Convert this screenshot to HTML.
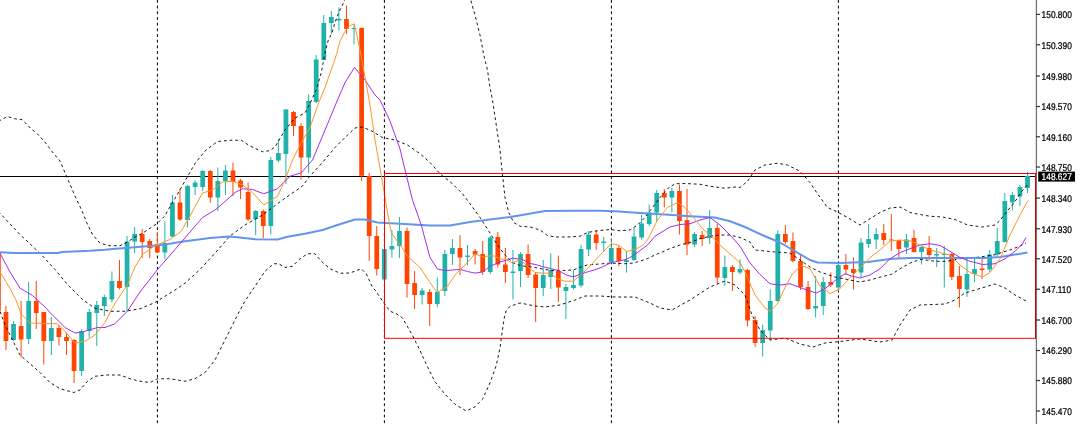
<!DOCTYPE html>
<html><head><meta charset="utf-8"><title>Chart</title><style>html,body{margin:0;padding:0;background:#fff}svg{display:block}</style></head><body>
<svg width="1080" height="424" viewBox="0 0 1080 424">
<rect width="1080" height="424" fill="#fff"/>
<g stroke="#000" stroke-width="1" stroke-dasharray="2.84 2.84" fill="none">
<line x1="157.4" y1="0" x2="157.4" y2="424"/>
<line x1="384.4" y1="0" x2="384.4" y2="424"/>
<line x1="611.4" y1="0" x2="611.4" y2="424"/>
<line x1="838.4" y1="0" x2="838.4" y2="424"/>
</g>
<line x1="0" y1="176.5" x2="1036" y2="176.5" stroke="#000" stroke-width="1"/>
<path d="M-1.60 253.0V311.0" stroke="#ff4500" stroke-width="1"/><rect x="-3.98" y="253.0" width="4.75" height="58.00" fill="#ff4500"/>
<path d="M5.97 306.0V350.0" stroke="#ff4500" stroke-width="1"/><rect x="3.59" y="312.0" width="4.75" height="29.00" fill="#ff4500"/>
<path d="M13.53 321.0V341.0" stroke="#20b2aa" stroke-width="1"/><rect x="11.16" y="324.0" width="4.75" height="16.00" fill="#20b2aa"/>
<path d="M21.10 301.0V357.5" stroke="#ff4500" stroke-width="1"/><rect x="18.73" y="326.0" width="4.75" height="13.50" fill="#ff4500"/>
<path d="M28.67 282.0V344.0" stroke="#20b2aa" stroke-width="1"/><rect x="26.29" y="301.0" width="4.75" height="38.00" fill="#20b2aa"/>
<path d="M36.23 281.0V329.0" stroke="#ff4500" stroke-width="1"/><rect x="33.86" y="301.0" width="4.75" height="12.00" fill="#ff4500"/>
<path d="M43.80 312.0V364.5" stroke="#ff4500" stroke-width="1"/><rect x="41.43" y="312.0" width="4.75" height="29.00" fill="#ff4500"/>
<path d="M51.37 317.0V355.0" stroke="#20b2aa" stroke-width="1"/><rect x="48.99" y="328.0" width="4.75" height="13.00" fill="#20b2aa"/>
<path d="M58.94 325.0V345.5" stroke="#ff4500" stroke-width="1"/><rect x="56.56" y="328.0" width="4.75" height="9.00" fill="#ff4500"/>
<path d="M66.50 332.5V355.0" stroke="#ff4500" stroke-width="1"/><rect x="64.13" y="337.0" width="4.75" height="4.00" fill="#ff4500"/>
<path d="M74.07 339.0V383.0" stroke="#ff4500" stroke-width="1"/><rect x="71.70" y="340.0" width="4.75" height="31.00" fill="#ff4500"/>
<path d="M81.64 329.0V376.0" stroke="#20b2aa" stroke-width="1"/><rect x="79.26" y="331.0" width="4.75" height="40.00" fill="#20b2aa"/>
<path d="M89.20 309.0V337.5" stroke="#20b2aa" stroke-width="1"/><rect x="86.83" y="312.0" width="4.75" height="19.00" fill="#20b2aa"/>
<path d="M96.77 301.0V346.0" stroke="#20b2aa" stroke-width="1"/><rect x="94.40" y="305.0" width="4.75" height="8.00" fill="#20b2aa"/>
<path d="M104.34 294.5V316.0" stroke="#20b2aa" stroke-width="1"/><rect x="101.96" y="297.0" width="4.75" height="9.00" fill="#20b2aa"/>
<path d="M111.91 271.5V302.5" stroke="#20b2aa" stroke-width="1"/><rect x="109.53" y="281.0" width="4.75" height="18.50" fill="#20b2aa"/>
<path d="M119.47 260.0V289.5" stroke="#ff4500" stroke-width="1"/><rect x="117.10" y="281.0" width="4.75" height="7.00" fill="#ff4500"/>
<path d="M127.04 236.0V311.0" stroke="#20b2aa" stroke-width="1"/><rect x="124.66" y="241.5" width="4.75" height="45.50" fill="#20b2aa"/>
<path d="M134.61 227.0V253.0" stroke="#20b2aa" stroke-width="1"/><rect x="132.23" y="234.0" width="4.75" height="7.50" fill="#20b2aa"/>
<path d="M142.17 229.0V258.0" stroke="#ff4500" stroke-width="1"/><rect x="139.80" y="234.0" width="4.75" height="8.00" fill="#ff4500"/>
<path d="M149.74 239.0V258.0" stroke="#ff4500" stroke-width="1"/><rect x="147.37" y="241.0" width="4.75" height="7.00" fill="#ff4500"/>
<path d="M157.31 232.0V253.0" stroke="#ff4500" stroke-width="1"/><rect x="154.93" y="244.0" width="4.75" height="8.50" fill="#ff4500"/>
<path d="M164.87 221.5V259.5" stroke="#20b2aa" stroke-width="1"/><rect x="162.50" y="243.0" width="4.75" height="9.50" fill="#20b2aa"/>
<path d="M172.44 195.0V237.0" stroke="#20b2aa" stroke-width="1"/><rect x="170.07" y="202.5" width="4.75" height="34.00" fill="#20b2aa"/>
<path d="M180.01 189.0V221.0" stroke="#ff4500" stroke-width="1"/><rect x="177.63" y="202.5" width="4.75" height="17.00" fill="#ff4500"/>
<path d="M187.58 185.0V227.5" stroke="#20b2aa" stroke-width="1"/><rect x="185.20" y="186.0" width="4.75" height="34.00" fill="#20b2aa"/>
<path d="M195.14 180.0V195.0" stroke="#20b2aa" stroke-width="1"/><rect x="192.77" y="182.5" width="4.75" height="4.50" fill="#20b2aa"/>
<path d="M202.71 170.0V191.0" stroke="#20b2aa" stroke-width="1"/><rect x="200.33" y="171.0" width="4.75" height="16.00" fill="#20b2aa"/>
<path d="M210.28 170.0V202.5" stroke="#ff4500" stroke-width="1"/><rect x="207.90" y="171.0" width="4.75" height="26.50" fill="#ff4500"/>
<path d="M217.84 167.5V211.0" stroke="#20b2aa" stroke-width="1"/><rect x="215.47" y="181.0" width="4.75" height="16.50" fill="#20b2aa"/>
<path d="M225.41 165.0V195.0" stroke="#20b2aa" stroke-width="1"/><rect x="223.03" y="170.5" width="4.75" height="10.50" fill="#20b2aa"/>
<path d="M232.98 162.5V196.0" stroke="#ff4500" stroke-width="1"/><rect x="230.60" y="170.5" width="4.75" height="11.50" fill="#ff4500"/>
<path d="M240.54 179.0V199.0" stroke="#ff4500" stroke-width="1"/><rect x="238.17" y="180.5" width="4.75" height="7.00" fill="#ff4500"/>
<path d="M248.11 182.5V221.0" stroke="#ff4500" stroke-width="1"/><rect x="245.74" y="192.0" width="4.75" height="27.50" fill="#ff4500"/>
<path d="M255.68 210.0V235.0" stroke="#20b2aa" stroke-width="1"/><rect x="253.30" y="211.0" width="4.75" height="8.00" fill="#20b2aa"/>
<path d="M263.25 209.5V238.0" stroke="#ff4500" stroke-width="1"/><rect x="260.87" y="211.0" width="4.75" height="15.00" fill="#ff4500"/>
<path d="M270.81 157.0V234.5" stroke="#20b2aa" stroke-width="1"/><rect x="268.44" y="160.0" width="4.75" height="66.00" fill="#20b2aa"/>
<path d="M278.38 139.0V162.0" stroke="#20b2aa" stroke-width="1"/><rect x="276.00" y="153.0" width="4.75" height="7.50" fill="#20b2aa"/>
<path d="M285.95 109.0V184.0" stroke="#20b2aa" stroke-width="1"/><rect x="283.57" y="109.5" width="4.75" height="44.50" fill="#20b2aa"/>
<path d="M293.51 111.0V136.0" stroke="#ff4500" stroke-width="1"/><rect x="291.14" y="112.0" width="4.75" height="14.00" fill="#ff4500"/>
<path d="M301.08 123.0V179.5" stroke="#ff4500" stroke-width="1"/><rect x="298.70" y="126.0" width="4.75" height="31.50" fill="#ff4500"/>
<path d="M308.65 94.5V173.0" stroke="#20b2aa" stroke-width="1"/><rect x="306.27" y="101.0" width="4.75" height="56.50" fill="#20b2aa"/>
<path d="M316.21 55.0V103.0" stroke="#20b2aa" stroke-width="1"/><rect x="313.84" y="59.5" width="4.75" height="42.50" fill="#20b2aa"/>
<path d="M323.78 15.0V60.0" stroke="#20b2aa" stroke-width="1"/><rect x="321.41" y="23.0" width="4.75" height="37.00" fill="#20b2aa"/>
<path d="M331.35 11.0V34.0" stroke="#20b2aa" stroke-width="1"/><rect x="328.97" y="17.0" width="4.75" height="6.00" fill="#20b2aa"/>
<path d="M338.91 7.5V30.6" stroke="#20b2aa" stroke-width="1"/><rect x="336.54" y="18.75" width="4.75" height="1.75" fill="#20b2aa"/>
<path d="M346.48 5.5V34.0" stroke="#ff4500" stroke-width="1"/><rect x="344.11" y="19.0" width="4.75" height="10.00" fill="#ff4500"/>
<path d="M354.05 25.0V44.5" stroke="#20b2aa" stroke-width="1"/><rect x="351.67" y="28.0" width="4.75" height="1.00" fill="#20b2aa"/>
<path d="M361.62 27.5V181.0" stroke="#ff4500" stroke-width="1"/><rect x="359.24" y="28.0" width="4.75" height="147.75" fill="#ff4500"/>
<path d="M369.18 173.0V261.0" stroke="#ff4500" stroke-width="1"/><rect x="366.81" y="176.0" width="4.75" height="60.00" fill="#ff4500"/>
<path d="M376.75 226.0V275.5" stroke="#ff4500" stroke-width="1"/><rect x="374.38" y="236.0" width="4.75" height="33.00" fill="#ff4500"/>
<path d="M384.32 249.0V280.0" stroke="#20b2aa" stroke-width="1"/><rect x="381.94" y="249.0" width="4.75" height="30.50" fill="#20b2aa"/>
<path d="M391.88 230.0V257.5" stroke="#20b2aa" stroke-width="1"/><rect x="389.51" y="246.0" width="4.75" height="3.50" fill="#20b2aa"/>
<path d="M399.45 217.0V258.0" stroke="#20b2aa" stroke-width="1"/><rect x="397.08" y="231.0" width="4.75" height="15.00" fill="#20b2aa"/>
<path d="M407.02 227.5V297.5" stroke="#ff4500" stroke-width="1"/><rect x="404.64" y="231.0" width="4.75" height="53.00" fill="#ff4500"/>
<path d="M414.58 271.0V309.0" stroke="#ff4500" stroke-width="1"/><rect x="412.21" y="283.0" width="4.75" height="12.00" fill="#ff4500"/>
<path d="M422.15 288.0V304.5" stroke="#20b2aa" stroke-width="1"/><rect x="419.78" y="290.5" width="4.75" height="4.50" fill="#20b2aa"/>
<path d="M429.72 289.0V326.0" stroke="#ff4500" stroke-width="1"/><rect x="427.34" y="292.0" width="4.75" height="12.00" fill="#ff4500"/>
<path d="M437.29 277.5V307.0" stroke="#20b2aa" stroke-width="1"/><rect x="434.91" y="292.0" width="4.75" height="12.00" fill="#20b2aa"/>
<path d="M444.85 250.0V296.0" stroke="#20b2aa" stroke-width="1"/><rect x="442.48" y="254.0" width="4.75" height="37.00" fill="#20b2aa"/>
<path d="M452.42 239.0V265.0" stroke="#20b2aa" stroke-width="1"/><rect x="450.04" y="248.0" width="4.75" height="6.00" fill="#20b2aa"/>
<path d="M459.99 235.0V275.0" stroke="#ff4500" stroke-width="1"/><rect x="457.61" y="248.0" width="4.75" height="9.50" fill="#ff4500"/>
<path d="M467.55 245.0V265.5" stroke="#20b2aa" stroke-width="1"/><rect x="465.18" y="255.5" width="4.75" height="1.50" fill="#20b2aa"/>
<path d="M475.12 249.0V264.5" stroke="#ff4500" stroke-width="1"/><rect x="472.75" y="251.0" width="4.75" height="3.50" fill="#ff4500"/>
<path d="M482.69 241.0V275.0" stroke="#ff4500" stroke-width="1"/><rect x="480.31" y="254.0" width="4.75" height="18.00" fill="#ff4500"/>
<path d="M490.25 236.0V274.0" stroke="#20b2aa" stroke-width="1"/><rect x="487.88" y="237.5" width="4.75" height="34.50" fill="#20b2aa"/>
<path d="M497.82 232.0V267.5" stroke="#ff4500" stroke-width="1"/><rect x="495.45" y="237.0" width="4.75" height="27.50" fill="#ff4500"/>
<path d="M505.39 248.0V283.0" stroke="#ff4500" stroke-width="1"/><rect x="503.01" y="264.5" width="4.75" height="7.50" fill="#ff4500"/>
<path d="M512.96 250.0V299.5" stroke="#20b2aa" stroke-width="1"/><rect x="510.58" y="271.5" width="4.75" height="1.50" fill="#20b2aa"/>
<path d="M520.52 252.0V287.0" stroke="#20b2aa" stroke-width="1"/><rect x="518.15" y="254.0" width="4.75" height="17.00" fill="#20b2aa"/>
<path d="M528.09 244.5V278.0" stroke="#ff4500" stroke-width="1"/><rect x="525.72" y="254.0" width="4.75" height="21.00" fill="#ff4500"/>
<path d="M535.66 272.0V322.0" stroke="#ff4500" stroke-width="1"/><rect x="533.28" y="274.5" width="4.75" height="13.50" fill="#ff4500"/>
<path d="M543.22 260.0V296.0" stroke="#20b2aa" stroke-width="1"/><rect x="540.85" y="275.0" width="4.75" height="13.00" fill="#20b2aa"/>
<path d="M550.79 253.5V289.0" stroke="#20b2aa" stroke-width="1"/><rect x="548.42" y="270.0" width="4.75" height="7.00" fill="#20b2aa"/>
<path d="M558.36 255.5V302.0" stroke="#ff4500" stroke-width="1"/><rect x="555.98" y="271.0" width="4.75" height="16.50" fill="#ff4500"/>
<path d="M565.92 284.0V319.0" stroke="#20b2aa" stroke-width="1"/><rect x="563.55" y="287.0" width="4.75" height="4.00" fill="#20b2aa"/>
<path d="M573.49 270.0V289.5" stroke="#20b2aa" stroke-width="1"/><rect x="571.12" y="285.0" width="4.75" height="3.00" fill="#20b2aa"/>
<path d="M581.06 245.0V287.5" stroke="#20b2aa" stroke-width="1"/><rect x="578.68" y="249.0" width="4.75" height="36.50" fill="#20b2aa"/>
<path d="M588.63 231.0V256.0" stroke="#20b2aa" stroke-width="1"/><rect x="586.25" y="234.5" width="4.75" height="15.00" fill="#20b2aa"/>
<path d="M596.19 230.0V250.0" stroke="#ff4500" stroke-width="1"/><rect x="593.82" y="234.5" width="4.75" height="8.50" fill="#ff4500"/>
<path d="M603.76 237.0V251.0" stroke="#20b2aa" stroke-width="1"/><rect x="601.38" y="241.5" width="4.75" height="1.50" fill="#20b2aa"/>
<path d="M611.33 239.0V263.0" stroke="#20b2aa" stroke-width="1"/><rect x="608.95" y="248.0" width="4.75" height="14.00" fill="#20b2aa"/>
<path d="M618.89 246.0V266.0" stroke="#ff4500" stroke-width="1"/><rect x="616.52" y="248.0" width="4.75" height="13.00" fill="#ff4500"/>
<path d="M626.46 251.0V272.5" stroke="#20b2aa" stroke-width="1"/><rect x="624.09" y="260.0" width="4.75" height="2.00" fill="#20b2aa"/>
<path d="M634.03 227.5V261.0" stroke="#20b2aa" stroke-width="1"/><rect x="631.65" y="236.5" width="4.75" height="23.50" fill="#20b2aa"/>
<path d="M641.60 215.0V239.5" stroke="#20b2aa" stroke-width="1"/><rect x="639.22" y="223.5" width="4.75" height="14.00" fill="#20b2aa"/>
<path d="M649.16 204.5V226.0" stroke="#20b2aa" stroke-width="1"/><rect x="646.79" y="212.5" width="4.75" height="11.50" fill="#20b2aa"/>
<path d="M656.73 190.0V221.0" stroke="#20b2aa" stroke-width="1"/><rect x="654.35" y="193.0" width="4.75" height="19.50" fill="#20b2aa"/>
<path d="M664.30 189.0V207.5" stroke="#ff4500" stroke-width="1"/><rect x="661.92" y="193.0" width="4.75" height="4.50" fill="#ff4500"/>
<path d="M671.86 188.0V212.5" stroke="#20b2aa" stroke-width="1"/><rect x="669.49" y="191.0" width="4.75" height="6.50" fill="#20b2aa"/>
<path d="M679.43 184.5V234.5" stroke="#ff4500" stroke-width="1"/><rect x="677.05" y="191.0" width="4.75" height="30.00" fill="#ff4500"/>
<path d="M687.00 189.0V255.0" stroke="#ff4500" stroke-width="1"/><rect x="684.62" y="220.0" width="4.75" height="24.50" fill="#ff4500"/>
<path d="M694.56 232.0V247.0" stroke="#20b2aa" stroke-width="1"/><rect x="692.19" y="234.0" width="4.75" height="10.50" fill="#20b2aa"/>
<path d="M702.13 231.0V246.0" stroke="#ff4500" stroke-width="1"/><rect x="699.76" y="235.0" width="4.75" height="4.00" fill="#ff4500"/>
<path d="M709.70 210.0V244.0" stroke="#20b2aa" stroke-width="1"/><rect x="707.32" y="228.0" width="4.75" height="10.00" fill="#20b2aa"/>
<path d="M717.26 224.0V284.0" stroke="#ff4500" stroke-width="1"/><rect x="714.89" y="228.0" width="4.75" height="49.50" fill="#ff4500"/>
<path d="M724.83 255.5V286.0" stroke="#20b2aa" stroke-width="1"/><rect x="722.46" y="267.0" width="4.75" height="11.00" fill="#20b2aa"/>
<path d="M732.40 265.0V291.0" stroke="#ff4500" stroke-width="1"/><rect x="730.02" y="267.0" width="4.75" height="5.00" fill="#ff4500"/>
<path d="M739.97 259.5V274.5" stroke="#20b2aa" stroke-width="1"/><rect x="737.59" y="269.0" width="4.75" height="3.50" fill="#20b2aa"/>
<path d="M747.53 269.0V326.5" stroke="#ff4500" stroke-width="1"/><rect x="745.16" y="270.0" width="4.75" height="50.50" fill="#ff4500"/>
<path d="M755.10 316.0V347.0" stroke="#ff4500" stroke-width="1"/><rect x="752.73" y="320.0" width="4.75" height="23.00" fill="#ff4500"/>
<path d="M762.67 324.5V356.5" stroke="#20b2aa" stroke-width="1"/><rect x="760.29" y="330.0" width="4.75" height="13.00" fill="#20b2aa"/>
<path d="M770.23 289.5V340.5" stroke="#20b2aa" stroke-width="1"/><rect x="767.86" y="301.0" width="4.75" height="29.50" fill="#20b2aa"/>
<path d="M777.80 230.5V301.5" stroke="#20b2aa" stroke-width="1"/><rect x="775.43" y="234.0" width="4.75" height="67.00" fill="#20b2aa"/>
<path d="M785.37 225.0V244.0" stroke="#ff4500" stroke-width="1"/><rect x="782.99" y="234.0" width="4.75" height="8.00" fill="#ff4500"/>
<path d="M792.93 232.5V262.5" stroke="#ff4500" stroke-width="1"/><rect x="790.56" y="241.0" width="4.75" height="20.00" fill="#ff4500"/>
<path d="M800.50 255.0V290.0" stroke="#ff4500" stroke-width="1"/><rect x="798.13" y="261.0" width="4.75" height="26.00" fill="#ff4500"/>
<path d="M808.07 281.0V310.0" stroke="#ff4500" stroke-width="1"/><rect x="805.69" y="287.0" width="4.75" height="22.00" fill="#ff4500"/>
<path d="M815.64 276.0V317.5" stroke="#20b2aa" stroke-width="1"/><rect x="813.26" y="306.0" width="4.75" height="2.50" fill="#20b2aa"/>
<path d="M823.20 277.0V315.0" stroke="#20b2aa" stroke-width="1"/><rect x="820.83" y="282.0" width="4.75" height="24.00" fill="#20b2aa"/>
<path d="M830.77 272.5V287.0" stroke="#ff4500" stroke-width="1"/><rect x="828.39" y="282.0" width="4.75" height="3.00" fill="#ff4500"/>
<path d="M838.34 263.0V291.0" stroke="#20b2aa" stroke-width="1"/><rect x="835.96" y="265.0" width="4.75" height="22.50" fill="#20b2aa"/>
<path d="M845.90 254.0V275.0" stroke="#ff4500" stroke-width="1"/><rect x="843.53" y="265.0" width="4.75" height="4.50" fill="#ff4500"/>
<path d="M853.47 257.5V289.5" stroke="#ff4500" stroke-width="1"/><rect x="851.10" y="269.0" width="4.75" height="4.00" fill="#ff4500"/>
<path d="M861.04 238.0V277.5" stroke="#20b2aa" stroke-width="1"/><rect x="858.66" y="242.5" width="4.75" height="30.00" fill="#20b2aa"/>
<path d="M868.61 224.0V248.0" stroke="#20b2aa" stroke-width="1"/><rect x="866.23" y="239.0" width="4.75" height="5.00" fill="#20b2aa"/>
<path d="M876.17 228.0V249.0" stroke="#20b2aa" stroke-width="1"/><rect x="873.80" y="234.0" width="4.75" height="5.50" fill="#20b2aa"/>
<path d="M883.74 224.0V245.0" stroke="#ff4500" stroke-width="1"/><rect x="881.36" y="233.0" width="4.75" height="7.00" fill="#ff4500"/>
<path d="M891.31 214.0V251.0" stroke="#ff4500" stroke-width="1"/><rect x="888.93" y="239.5" width="4.75" height="1.00" fill="#ff4500"/>
<path d="M898.87 240.0V258.0" stroke="#ff4500" stroke-width="1"/><rect x="896.50" y="240.5" width="4.75" height="8.50" fill="#ff4500"/>
<path d="M906.44 234.0V254.0" stroke="#20b2aa" stroke-width="1"/><rect x="904.06" y="239.5" width="4.75" height="8.00" fill="#20b2aa"/>
<path d="M914.01 230.0V252.5" stroke="#ff4500" stroke-width="1"/><rect x="911.63" y="238.0" width="4.75" height="14.00" fill="#ff4500"/>
<path d="M921.57 245.0V264.5" stroke="#20b2aa" stroke-width="1"/><rect x="919.20" y="247.0" width="4.75" height="5.00" fill="#20b2aa"/>
<path d="M929.14 236.0V260.0" stroke="#ff4500" stroke-width="1"/><rect x="926.77" y="248.0" width="4.75" height="7.00" fill="#ff4500"/>
<path d="M936.71 248.0V267.0" stroke="#20b2aa" stroke-width="1"/><rect x="934.33" y="254.0" width="4.75" height="1.50" fill="#20b2aa"/>
<path d="M944.27 246.0V287.5" stroke="#20b2aa" stroke-width="1"/><rect x="941.90" y="254.0" width="4.75" height="1.00" fill="#20b2aa"/>
<path d="M951.84 253.0V280.0" stroke="#ff4500" stroke-width="1"/><rect x="949.47" y="254.0" width="4.75" height="23.00" fill="#ff4500"/>
<path d="M959.41 266.0V307.5" stroke="#ff4500" stroke-width="1"/><rect x="957.03" y="276.0" width="4.75" height="13.00" fill="#ff4500"/>
<path d="M966.98 257.5V297.0" stroke="#20b2aa" stroke-width="1"/><rect x="964.60" y="274.0" width="4.75" height="15.50" fill="#20b2aa"/>
<path d="M974.54 258.0V282.0" stroke="#20b2aa" stroke-width="1"/><rect x="972.17" y="269.0" width="4.75" height="5.00" fill="#20b2aa"/>
<path d="M982.11 259.0V279.0" stroke="#ff4500" stroke-width="1"/><rect x="979.74" y="268.5" width="4.75" height="1.50" fill="#ff4500"/>
<path d="M989.68 250.0V272.0" stroke="#20b2aa" stroke-width="1"/><rect x="987.30" y="254.5" width="4.75" height="15.00" fill="#20b2aa"/>
<path d="M997.24 228.0V256.0" stroke="#20b2aa" stroke-width="1"/><rect x="994.87" y="241.0" width="4.75" height="13.50" fill="#20b2aa"/>
<path d="M1004.81 193.0V242.5" stroke="#20b2aa" stroke-width="1"/><rect x="1002.44" y="201.0" width="4.75" height="41.00" fill="#20b2aa"/>
<path d="M1012.38 192.0V210.5" stroke="#20b2aa" stroke-width="1"/><rect x="1010.00" y="195.0" width="4.75" height="7.50" fill="#20b2aa"/>
<path d="M1019.95 185.0V206.0" stroke="#20b2aa" stroke-width="1"/><rect x="1017.57" y="187.0" width="4.75" height="9.50" fill="#20b2aa"/>
<path d="M1027.51 172.0V193.0" stroke="#20b2aa" stroke-width="1"/><rect x="1025.14" y="176.0" width="4.75" height="12.00" fill="#20b2aa"/>
<g stroke="#000" stroke-width="0.9" stroke-dasharray="2.84 2.84" fill="none" stroke-linejoin="round">
<polyline points="-1.60,121.00 2.00,119.50 7.50,116.50 14.40,118.70 22.00,119.60 25.60,123.00 31.00,128.75 37.50,134.00 45.00,142.25 52.00,151.50 60.00,161.00 67.50,178.50 75.00,196.00 82.50,212.00 87.50,224.50 92.50,234.50 100.00,243.25 110.00,245.75 120.00,245.75 127.50,242.00 135.00,237.00 142.50,233.25 150.00,228.25 157.50,223.25 165.00,215.75 167.50,211.00 175.00,198.50 185.00,181.00 195.00,163.50 205.00,151.00 217.50,141.50 230.00,140.25 241.25,140.25 250.00,146.00 262.50,151.75 270.00,150.50 275.00,147.00 285.00,130.00 295.00,118.00 305.00,113.00 308.75,106.00 316.25,90.00 321.25,72.50 325.60,50.00 328.00,41.00 331.90,33.00 335.00,22.50 338.75,12.50 342.50,5.00 345.00,-1.00"/>
<polyline points="470.00,-5.00 471.25,2.00 475.00,15.00 480.00,35.00 483.75,55.00 487.50,70.00 490.00,87.50 492.50,100.00 496.25,125.00 500.00,150.00 502.50,175.00 505.00,197.50 508.75,212.50 513.75,222.50 520.00,226.25 530.00,227.00 540.00,230.00 547.50,235.50 555.00,237.00 567.50,237.00 580.00,236.25 587.50,232.50 597.50,230.75 610.00,229.50 620.00,230.75 630.00,230.00 637.50,225.00 645.00,217.50 652.50,207.50 660.00,197.50 667.50,188.75 675.00,183.75 685.00,183.50 700.00,184.25 710.00,186.25 725.00,188.25 735.00,187.00 740.00,187.50 747.50,181.25 755.00,170.00 765.00,165.00 777.50,163.25 787.50,165.00 800.00,171.25 810.00,182.50 817.50,193.75 827.50,207.50 837.50,212.00 847.50,217.50 860.00,225.00 870.00,218.75 880.00,212.50 890.00,208.00 900.00,207.00 910.00,212.50 920.00,214.50 930.00,216.25 942.50,217.00 955.00,219.50 967.50,225.00 982.50,227.00 995.00,225.00 1000.00,220.50 1003.75,215.60 1007.50,210.60 1012.50,205.00 1017.50,198.00 1021.25,192.00 1026.25,186.25 1028.00,183.75"/>
<polyline points="-1.60,211.50 0.00,213.25 20.00,234.50 40.00,253.25 55.00,269.50 67.50,284.50 82.50,299.50 95.00,308.25 110.00,311.25 125.00,311.25 140.00,308.75 155.00,302.50 165.00,296.25 175.00,290.00 185.00,283.25 200.00,269.50 215.00,253.25 230.00,236.00 245.00,225.00 262.50,215.00 282.50,200.00 302.50,186.00 310.00,176.00 322.50,162.50 335.00,147.50 345.00,137.50 355.00,128.00 361.00,127.00 370.00,130.00 382.50,137.50 395.00,140.00 407.50,145.00 420.00,153.75 430.00,162.50 440.00,173.75 452.50,183.75 462.50,193.75 470.00,203.75 480.00,217.50 490.00,233.00 497.50,245.00 505.00,255.00 512.50,262.50 520.00,265.50 527.50,266.50 535.00,267.50 542.50,269.00 551.25,270.40 566.25,270.40 573.75,269.75 581.25,266.90 587.50,265.00 602.50,263.75 610.00,263.10 625.00,263.75 632.50,263.10 640.00,261.25 647.50,258.50 655.00,255.00 662.50,251.90 670.00,248.50 680.00,245.00 690.00,242.50 700.00,238.75 710.00,236.25 720.00,235.00 730.00,235.00 740.00,237.50 750.00,242.00 755.00,250.00 775.00,252.00 790.00,253.00 800.00,260.00 810.00,267.00 820.00,272.00 835.00,277.00 850.00,280.00 860.00,282.00 870.00,280.00 878.75,277.50 891.25,274.40 901.25,268.10 910.00,263.10 920.00,259.40 926.00,260.00 935.00,261.25 947.50,261.25 952.50,260.00 966.25,257.75 977.50,257.25 985.00,256.25 995.00,254.75 1003.00,252.00 1010.00,250.00 1020.00,246.00 1026.00,243.00"/>
<polyline points="-1.60,306.00 0.00,311.25 5.00,325.00 12.50,340.00 20.00,355.00 30.00,363.75 40.00,372.50 50.00,382.50 60.00,388.75 73.75,392.50 80.00,390.00 87.50,381.25 95.00,376.25 107.50,375.00 120.00,375.00 130.00,378.75 140.00,381.25 150.00,382.50 157.50,378.75 170.00,378.75 185.00,381.25 195.00,378.75 205.00,372.50 215.00,360.00 225.00,340.00 237.50,315.00 245.00,301.00 255.00,286.25 265.00,271.25 273.75,263.75 278.75,263.75 285.00,267.50 292.50,266.25 300.00,258.75 307.50,253.75 315.00,253.75 321.25,261.25 330.00,268.75 340.00,273.25 350.00,273.00 361.25,268.75 366.25,273.75 372.50,287.50 375.00,290.00 382.50,301.00 390.00,311.25 397.00,314.00 402.50,318.00 412.50,335.50 420.00,350.50 427.50,366.75 435.00,381.75 445.00,394.25 455.00,404.25 466.25,411.00 475.00,406.75 482.50,399.25 490.00,383.00 496.25,365.50 500.00,348.00 502.00,333.00 504.25,318.00 506.00,311.00 510.00,306.25 520.00,303.00 535.00,306.00 545.00,307.00 560.00,305.00 575.00,300.00 585.00,296.00 600.00,296.00 615.00,297.00 635.00,297.00 650.00,303.00 660.00,308.00 672.00,310.00 690.00,300.00 710.00,287.00 725.00,281.00 735.00,285.00 745.00,295.00 752.00,315.00 760.00,330.00 770.00,340.00 785.00,338.00 800.00,344.00 813.00,347.00 825.00,343.00 840.00,341.50 860.00,339.00 880.00,342.00 892.00,340.00 900.00,325.00 910.00,310.00 920.00,305.00 945.00,304.00 955.00,300.00 965.00,293.00 985.00,287.00 995.00,284.00 1005.00,288.00 1015.00,295.00 1026.00,301.00"/>
</g>
<polyline points="-2.00,252.20 0.00,252.20 14.00,253.00 58.00,253.00 62.00,252.00 90.00,250.80 105.00,249.70 112.50,248.90 135.00,247.30 150.00,246.10 157.50,245.20 165.00,244.40 185.00,241.25 210.00,238.00 228.75,236.60 235.00,237.00 255.00,239.30 277.50,239.50 287.50,236.80 305.00,233.80 322.50,230.00 337.50,225.00 355.00,219.50 365.00,219.50 377.50,222.50 400.00,223.75 430.00,225.50 450.00,225.50 470.00,222.00 490.00,219.50 510.00,217.00 525.00,214.50 545.00,211.00 575.00,210.75 600.00,210.75 615.00,211.25 640.00,213.00 665.00,214.50 690.00,216.25 715.00,217.50 730.00,221.25 745.00,227.00 765.00,236.25 780.00,242.50 795.00,251.25 810.00,260.00 817.50,262.50 840.00,263.00 867.50,262.00 892.50,258.75 910.00,258.00 950.00,258.00 985.00,258.00 1000.00,257.00 1012.50,255.00 1027.50,252.50" fill="none" stroke="#6495ed" stroke-width="2" stroke-linejoin="round"/>
<polyline points="-1.60,250.00 0.00,253.25 10.00,272.00 20.00,288.25 32.50,295.50 45.00,307.00 50.00,312.50 65.00,327.50 75.00,333.00 82.50,332.00 97.50,327.50 105.00,327.50 115.00,323.75 127.50,311.00 140.00,292.00 157.50,269.50 175.00,249.50 190.00,232.00 202.50,217.50 215.00,210.00 222.50,203.75 235.00,192.50 242.50,188.75 252.50,189.50 263.75,193.75 277.50,188.75 290.00,176.25 301.25,172.75 312.50,160.00 325.00,130.00 337.50,100.00 345.00,82.50 354.50,67.50 365.00,80.00 375.00,95.00 380.00,100.00 390.00,121.00 400.00,149.00 406.25,175.00 412.50,200.00 421.25,225.00 430.00,257.50 437.50,269.00 445.00,270.60 460.00,269.40 467.50,271.50 475.00,273.10 482.50,272.00 490.00,266.25 500.00,262.00 512.50,258.25 522.50,259.50 530.00,263.50 535.00,264.40 543.75,266.90 551.25,268.75 558.75,270.60 566.25,275.00 573.10,276.90 580.00,274.40 587.50,271.90 595.00,269.75 602.50,266.90 610.00,263.10 617.50,261.25 625.00,259.75 632.50,256.25 640.00,250.60 647.50,245.00 655.00,236.25 670.00,227.00 680.00,224.50 690.00,223.75 700.00,220.00 710.00,217.50 720.00,225.00 730.00,235.00 740.00,246.25 750.00,263.00 760.00,274.50 770.00,283.75 780.00,285.00 790.00,283.75 800.00,287.50 810.00,291.00 816.25,293.00 825.00,288.75 835.00,280.50 845.00,273.75 852.50,276.25 860.00,278.00 870.00,275.00 880.00,268.75 890.00,258.75 900.00,252.50 910.00,248.75 920.00,245.00 930.00,243.75 940.00,245.50 950.00,251.25 960.00,257.50 970.00,261.25 982.50,264.50 995.00,263.75 1005.00,258.75 1015.00,251.25 1022.50,243.75 1026.00,237.50" fill="none" stroke="#a32cf0" stroke-width="1" stroke-linejoin="round"/>
<polyline points="-1.60,268.00 0.00,272.00 10.00,288.50 16.00,300.00 21.00,313.75 30.00,323.00 57.50,323.75 65.00,331.25 75.00,343.25 85.00,341.25 95.00,335.00 105.00,322.50 112.50,307.50 117.50,299.50 127.50,284.50 135.00,267.00 142.50,254.50 155.00,245.75 170.00,239.50 181.25,231.25 190.00,216.00 202.50,193.00 212.50,190.00 222.50,182.00 232.50,181.25 242.50,185.00 252.50,192.50 263.75,205.00 277.50,196.25 285.00,180.00 292.50,160.00 300.00,145.00 310.00,127.50 318.75,102.50 325.00,87.50 335.00,59.00 336.90,53.00 340.00,41.25 345.00,31.25 350.00,25.60 354.40,23.75 360.00,50.00 365.00,77.00 370.00,105.00 375.00,140.00 382.50,182.50 387.50,212.50 391.25,232.50 400.00,245.00 407.50,256.25 420.00,267.50 430.00,282.50 437.00,292.50 447.50,286.25 455.00,275.00 465.00,265.00 475.00,253.75 482.50,257.00 492.50,255.50 502.50,259.50 505.00,258.75 512.50,263.00 520.00,259.40 528.75,267.50 535.00,272.50 542.50,273.10 550.00,273.10 557.50,278.75 565.00,281.25 573.10,281.25 580.00,275.60 587.50,268.75 595.00,260.60 602.50,252.50 611.25,243.50 618.75,245.25 626.90,251.50 635.00,249.40 642.50,245.60 647.50,240.00 657.50,220.00 667.50,207.50 677.50,202.50 685.00,207.50 692.50,216.25 702.50,228.75 712.50,237.00 720.00,245.00 730.00,254.00 740.00,262.50 745.00,272.00 755.00,295.00 765.00,308.00 770.00,311.25 777.50,303.75 785.00,287.50 792.50,273.75 801.25,265.50 810.00,268.75 820.00,286.00 830.00,293.50 840.00,288.75 850.00,277.50 860.00,268.00 870.00,257.50 880.00,250.00 890.00,241.00 900.00,240.00 910.00,240.75 920.00,245.00 930.00,250.00 940.00,252.50 950.00,255.00 960.00,265.00 970.00,272.50 982.50,277.00 990.00,272.50 1000.00,259.00 1010.00,235.00 1020.00,215.00 1028.00,200.50" fill="none" stroke="#ff9526" stroke-width="1" stroke-linejoin="round"/>
<rect x="384.5" y="173.5" width="651" height="164.8" fill="none" stroke="#ff0000" stroke-width="1"/>
<line x1="1036.4" y1="0" x2="1036.4" y2="424" stroke="#000" stroke-opacity="0.55" stroke-width="1.3"/>
<g font-family="Liberation Sans, sans-serif" font-size="20px" fill="#000" stroke="#000" stroke-width="0.5">
<line x1="1036" y1="14.4" x2="1040" y2="14.4" stroke="#333" stroke-width="1.2"/>
<text transform="translate(1041.6 18.20) rotate(0.03) scale(0.418 0.49)">150.800</text>
<line x1="1036" y1="44.7" x2="1040" y2="44.7" stroke="#333" stroke-width="1.2"/>
<text transform="translate(1041.6 48.50) rotate(0.03) scale(0.418 0.49)">150.390</text>
<line x1="1036" y1="76.0" x2="1040" y2="76.0" stroke="#333" stroke-width="1.2"/>
<text transform="translate(1041.6 79.80) rotate(0.03) scale(0.418 0.49)">149.980</text>
<line x1="1036" y1="106.5" x2="1040" y2="106.5" stroke="#333" stroke-width="1.2"/>
<text transform="translate(1041.6 110.30) rotate(0.03) scale(0.418 0.49)">149.570</text>
<line x1="1036" y1="136.8" x2="1040" y2="136.8" stroke="#333" stroke-width="1.2"/>
<text transform="translate(1041.6 140.55) rotate(0.03) scale(0.418 0.49)">149.160</text>
<line x1="1036" y1="167.0" x2="1040" y2="167.0" stroke="#333" stroke-width="1.2"/>
<text transform="translate(1041.6 170.80) rotate(0.03) scale(0.418 0.49)">148.750</text>
<line x1="1036" y1="198.1" x2="1040" y2="198.1" stroke="#333" stroke-width="1.2"/>
<text transform="translate(1041.6 201.90) rotate(0.03) scale(0.418 0.49)">148.340</text>
<line x1="1036" y1="228.8" x2="1040" y2="228.8" stroke="#333" stroke-width="1.2"/>
<text transform="translate(1041.6 232.55) rotate(0.03) scale(0.418 0.49)">147.930</text>
<line x1="1036" y1="258.8" x2="1040" y2="258.8" stroke="#333" stroke-width="1.2"/>
<text transform="translate(1041.6 262.55) rotate(0.03) scale(0.418 0.49)">147.520</text>
<line x1="1036" y1="289.2" x2="1040" y2="289.2" stroke="#333" stroke-width="1.2"/>
<text transform="translate(1041.6 293.05) rotate(0.03) scale(0.418 0.49)">147.110</text>
<line x1="1036" y1="320.0" x2="1040" y2="320.0" stroke="#333" stroke-width="1.2"/>
<text transform="translate(1041.6 323.80) rotate(0.03) scale(0.418 0.49)">146.700</text>
<line x1="1036" y1="350.5" x2="1040" y2="350.5" stroke="#333" stroke-width="1.2"/>
<text transform="translate(1041.6 354.30) rotate(0.03) scale(0.418 0.49)">146.290</text>
<line x1="1036" y1="380.5" x2="1040" y2="380.5" stroke="#333" stroke-width="1.2"/>
<text transform="translate(1041.6 384.30) rotate(0.03) scale(0.418 0.49)">145.880</text>
<line x1="1036" y1="411.0" x2="1040" y2="411.0" stroke="#333" stroke-width="1.2"/>
<text transform="translate(1041.6 414.80) rotate(0.03) scale(0.418 0.49)">145.470</text>
<rect x="1038.2" y="171.6" width="36.8" height="10" fill="#000" stroke="none"/>
<text transform="translate(1041.6 180.4) rotate(0.03) scale(0.418 0.49)" fill="#fff" stroke="#fff">148.627</text>
</g>
</svg>
</body></html>
